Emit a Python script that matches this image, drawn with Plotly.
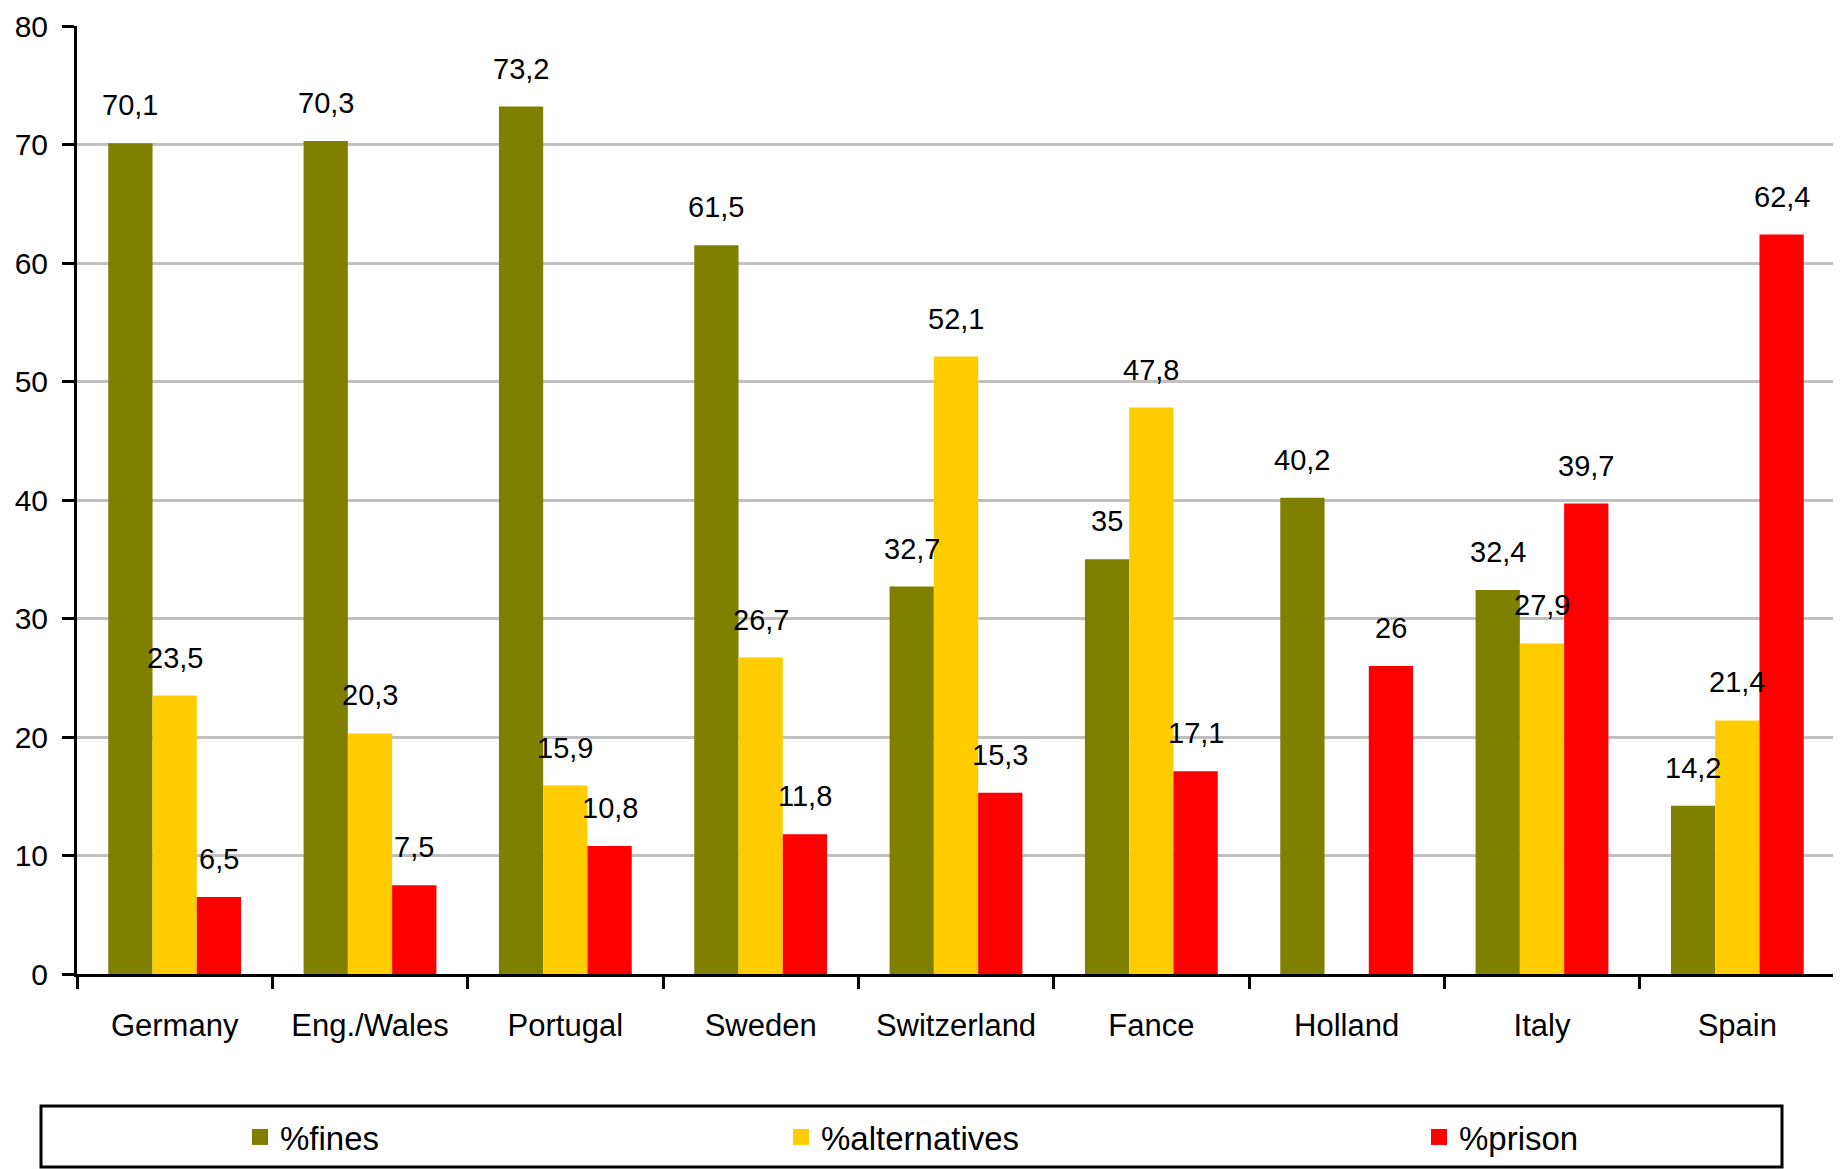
import plotly.graph_objects as go

categories = ["Germany", "Eng./Wales", "Portugal", "Sweden", "Switzerland", "Fance", "Holland", "Italy", "Spain"]
fines = [70.1, 70.3, 73.2, 61.5, 32.7, 35, 40.2, 32.4, 14.2]
alternatives = [23.5, 20.3, 15.9, 26.7, 52.1, 47.8, None, 27.9, 21.4]
prison = [6.5, 7.5, 10.8, 11.8, 15.3, 17.1, 26, 39.7, 62.4]
series_names = ["%fines", "%alternatives", "%prison"]
colors = ["#808000", "#FFCC00", "#FF0000"]

# page body margin offsets the figure by 8px; compensate
OFF = 8
W, H = 1841, 1169
ML, MT = 77 - OFF, 26 - OFF
MR = W - (1835 - OFF)
MB = H - (974 - OFF)
BARGAP = 0.32
FONT = "Liberation Sans, Arial, sans-serif"

legend_ids = ["legend", "legend2", "legend3"]
legend_x_px = [240 - OFF, 781 - OFF, 1419 - OFF]

fig = go.Figure()
all_series = [fines, alternatives, prison]
for name, vals, col, lid in zip(series_names, all_series, colors, legend_ids):
    fig.add_trace(go.Bar(x=categories, y=vals, name=name, showlegend=False,
                         marker=dict(color=col, line=dict(width=0))))
    # legend entry with a larger square swatch
    fig.add_trace(go.Scatter(x=[None], y=[None], mode="markers", name=name, legend=lid,
                             marker=dict(symbol="square", size=20, color=col),
                             hoverinfo="skip"))


def fmt(v):
    return f"{v:g}".replace(".", ",")

plot_w = W - ML - MR
plot_h = H - MT - MB
bar_w = plot_w / len(categories) * (1 - BARGAP) / len(all_series)
for si, vals in enumerate(all_series):
    shift = (si - (len(all_series) - 1) / 2) * bar_w
    for c, v in zip(categories, vals):
        if v is None:
            continue
        fig.add_annotation(x=c, y=v, xref="x", yref="y", text=fmt(v), showarrow=False,
                           xshift=shift, yshift=20, yanchor="bottom",
                           font=dict(family=FONT, size=29, color="black"))

# legend box
base_y = 974 - OFF
fig.add_shape(type="rect", xref="paper", yref="paper",
              x0=(41 - OFF - ML) / plot_w, x1=(1782 - OFF - ML) / plot_w,
              y0=(base_y - (1106 - OFF)) / plot_h, y1=(base_y - (1167 - OFF)) / plot_h,
              line=dict(color="black", width=3), fillcolor="rgba(0,0,0,0)")

legend_common = dict(orientation="h", xref="container", yref="container",
                     xanchor="left", yanchor="middle", y=1 - (1137 - OFF) / H,
                     itemsizing="trace",
                     font=dict(family=FONT, size=33, color="black"),
                     bgcolor="rgba(0,0,0,0)", borderwidth=0)

fig.update_layout(
    width=W, height=H,
    margin=dict(l=ML, r=MR, t=MT, b=MB),
    plot_bgcolor="white", paper_bgcolor="white",
    barmode="group", bargap=BARGAP, bargroupgap=0,
    font=dict(family=FONT, size=30, color="black"),
    showlegend=True,
    legend=dict(x=legend_x_px[0] / W, **legend_common),
    legend2=dict(x=legend_x_px[1] / W, **legend_common),
    legend3=dict(x=legend_x_px[2] / W, **legend_common),
    xaxis=dict(showline=True, linecolor="black", linewidth=3, ticks="outside",
               tickson="boundaries", ticklen=12, tickwidth=3, tickcolor="black",
               ticklabelstandoff=22, showgrid=False, automargin=False,
               categoryorder="array", categoryarray=categories,
               tickfont=dict(family=FONT, size=31, color="black")),
    yaxis=dict(range=[0, 80], dtick=10, showline=True, linecolor="black", linewidth=3,
               ticks="outside", ticklen=12, tickwidth=3, tickcolor="black",
               showgrid=True, gridcolor="#C0C0C0", gridwidth=3, zeroline=False,
               ticklabelstandoff=8, automargin=False,
               tickfont=dict(family=FONT, size=30, color="black")),
)

fig.write_html("out.html")
